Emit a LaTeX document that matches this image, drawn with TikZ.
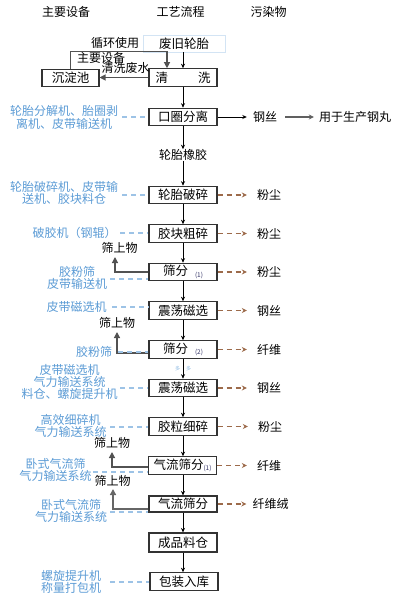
\documentclass[tikz,border=0pt]{standalone}
\usepackage{fontspec}
\setmainfont{Noto Sans CJK SC}
\usetikzlibrary{arrows.meta}
\definecolor{bl}{HTML}{5B9BD5}
\definecolor{bld}{HTML}{9DC3E6}
\definecolor{br}{HTML}{9C6A4A}
\definecolor{gr}{HTML}{333333}
\definecolor{sub}{HTML}{333366}
\begin{document}
\begin{tikzpicture}[x=1pt,y=-1pt,
  every node/.style={inner sep=0pt, font=\fontsize{12}{12}\selectfont},
  box/.style={draw=gr, line width=1.1pt, minimum width=68pt, minimum height=17.5pt, font=\fontsize{12.5}{12.5}\selectfont, fill=white},
  lbl/.style={text=bl, align=center, font=\fontsize{12}{12}\selectfont},
  lbltight/.style={text=bl, align=center, font=\fontsize{12}{11}\selectfont},
  flow/.style={-{Stealth[length=4.5pt,width=4pt]}, line width=0.8pt, black},
  back/.style={-{Triangle[length=6pt,width=6pt]}, line width=1.2pt, gr!85},
  eq/.style={bld, line width=1.2pt, dash pattern=on 5pt off 4pt},
  pol/.style={br, line width=1.2pt, dash pattern=on 5pt off 4pt, -{Stealth[length=5pt,width=5pt]}},
  garrow/.style={gray!75!black, line width=1.5pt, -{Stealth[length=5pt,width=5pt]}},
  subn/.style={text=sub},
]
\useasboundingbox (0,0) rectangle (403,607);
\newcommand{\subone}[1]{\raisebox{-1.5pt}{\fontsize{6.5}{6.5}\selectfont\color{sub}(#1)}}

% headers
\node (h1) at (66,12) {主要设备};
\node (h2) at (180.5,12) {工艺流程};
\node (h3) at (268.5,12) {污染物};

% process boxes
\node[box, draw=bld!45, line width=0.8pt, minimum width=82pt, minimum height=17pt] (b0) at (184,43.5) {废旧轮胎};
\node[box] (b1) at (183,77.5) {清\hspace{30pt}洗};
\node[box, minimum width=57pt] (b1a) at (70.5,78) {沉淀池};
\node[box] (b2) at (183,117) {口圈分离};
\node (t1) at (183,155) {轮胎橡胶};
\node[box] (b3) at (183,195) {轮胎破碎};
\node[box] (b4) at (183,233.5) {胶块粗碎};
\node[box] (b5) at (183,272) {筛分\hspace{7pt}\subone{1}};
\node[box] (b6) at (183,310.5) {震荡磁选};
\node[box] (b7) at (183,349.5) {筛分\hspace{7pt}\subone{2}};
\node[box] (b8) at (183,388) {震荡磁选};
\node[box] (b9) at (183,426.5) {胶粒细碎};
\node[box] (b10) at (182.5,465.5) {气流筛分\subone{1}};
\node[box, minimum height=16pt] (b11) at (183,504) {气流筛分};
\node[box, minimum height=19pt] (b12) at (183,542.5) {成品料仓};
\node[box] (b13) at (184,581.5) {包装入库};

% main flow
\draw[flow] (b1.north |- b0.south) -- (b1.north);
\draw[flow] (b1) -- (b2);
\draw[flow] (b2) -- (t1);
\draw[flow] (t1) -- (b3);
\draw[flow] (b3) -- (b4);
\draw[flow] (b4) -- (b5);
\draw[flow] (b5) -- (b6);
\draw[flow] (b6) -- (b7);
\draw[flow] (b7) -- (b8);
\draw[flow] (b8) -- (b9);
\draw[flow] (b9) -- (b10.north -| b9.south);
\draw[flow] (b10.south -| b11.north) -- (b11);
\draw[flow] (b11) -- (b12);
\draw[flow] (b12.south) -- (b12.south |- b13.north);

% tiny text
\node[text=bl!70, font=\fontsize{5}{5}\selectfont] (tt) at (183,369) {多\hspace{6pt}多};

% washing loop
\draw[back] (b1a.north) -- ++(0,-17) -| ([xshift=-16pt]b1.north);
\draw[back] (b1.west) -- (b1.west -| b1a.east);
\node (w1) at (115,43) {循环使用};
\node (w2) at (101,58) {主要设备};
\node (w3) at (125.5,68) {清洗废水};

% steel wire
\node (s1) at (265,117) {钢丝};
\node (s2) at (355,117) {用于生产钢丸};
\draw[flow, shorten >=6pt] (b2) -- (s1);
\draw[garrow, shorten <=8pt, shorten >=5pt] (s1) -- (s2);

% pollutants
\node (p3) at (269,195) {粉尘};
\node (p4) at (269,233.5) {粉尘};
\node (p5) at (269,272) {粉尘};
\node (p6) at (269,310.5) {钢丝};
\node (p7) at (269,349.5) {纤维};
\node (p8) at (269,388) {钢丝};
\node (p9) at (270,426.5) {粉尘};
\node (p10) at (269,465.5) {纤维};
\node (p11) at (270.5,504) {纤维绒};
\foreach \b/\p in {b3/p3,b4/p4,b5/p5,b6/p6,b7/p7,b8/p8,b9/p9,b10/p10}
  \draw[pol, shorten >=10pt] (\b.east) -- (\p.west);
\draw[pol, shorten >=6pt] (b11.east) -- (p11.west);

% oversize returns
\coordinate (r1) at (115,257);
\coordinate (r2) at (117,332);
\coordinate (r3) at (112,452);
\coordinate (r4) at (113,489);
\draw[back] (b5.west) -| (r1);
\draw[back] ([yshift=-3.5pt]b7.west) -| (r2);
\draw[back] ([yshift=-1.5pt]b10.west) -| (r3);
\draw[back, line width=2pt, gray!80!black] ([yshift=-5pt]b11.west) -| (r4);
\node (o1) at (119.5,248) {筛上物};
\node (o2) at (117,323) {筛上物};
\node (o3) at (112,443) {筛上物};
\node (o4) at (112.5,481) {筛上物};

% equipment labels
\node[lbltight] (e2) at (64,117.5) {轮胎分解机、胎圈剥\\离机、皮带输送机};
\node[lbltight] (e3) at (64,193) {轮胎破碎机、皮带输\\送机、胶块料仓};
\node[lbl] (e4) at (74.5,233) {破胶机（钢辊）};
\node[lbl] (e5) at (77,278) {胶粉筛\\皮带输送机};
\node[lbl] (e6) at (76.5,307) {皮带磁选机};
\node[lbl] (e7) at (94,352) {胶粉筛};
\node[lbl] (e8) at (69.5,381.5) {皮带磁选机\\气力输送系统\\料仓、螺旋提升机};
\node[lbl] (e9) at (70.5,426) {高效细碎机\\气力输送系统};
\node[lbl] (e10) at (55.5,470) {卧式气流筛\\气力输送系统};
\node[lbl] (e11) at (71,511) {卧式气流筛\\气力输送系统};
\node[lbl] (e12) at (71,582) {螺旋提升机\\称量打包机};

\coordinate (d2) at (122,117);
\coordinate (d3) at (122,195);
\coordinate (d4) at (120,233);
\coordinate (d5) at (110,279);
\coordinate (d6) at (112,307);
\coordinate (d7) at (118,352);
\coordinate (d8) at (120,388);
\coordinate (d9) at (110,427);
\coordinate (d10) at (93,472);
\coordinate (d11) at (110,512);
\coordinate (d12) at (110,582);
\draw[eq] (d2) -- (d2 -| b2.west);
\draw[eq] (d3) -- (d3 -| b3.west);
\draw[eq] (d4) -- (d4 -| b4.west);
\draw[eq] (d5) -- (d5 -| b5.west);
\draw[eq] (d6) -- (d6 -| b6.west);
\draw[eq] (d7) -- (d7 -| b7.west);
\draw[eq] (d8) -- (d8 -| b8.west);
\draw[eq] (d9) -- (d9 -| b9.west);
\draw[eq] (d10) -- (d10 -| b10.west);
\draw[eq] (d11) -- (d11 -| b11.west);
\draw[eq] (d12) -- (d12 -| b13.west);
\end{tikzpicture}
\end{document}
